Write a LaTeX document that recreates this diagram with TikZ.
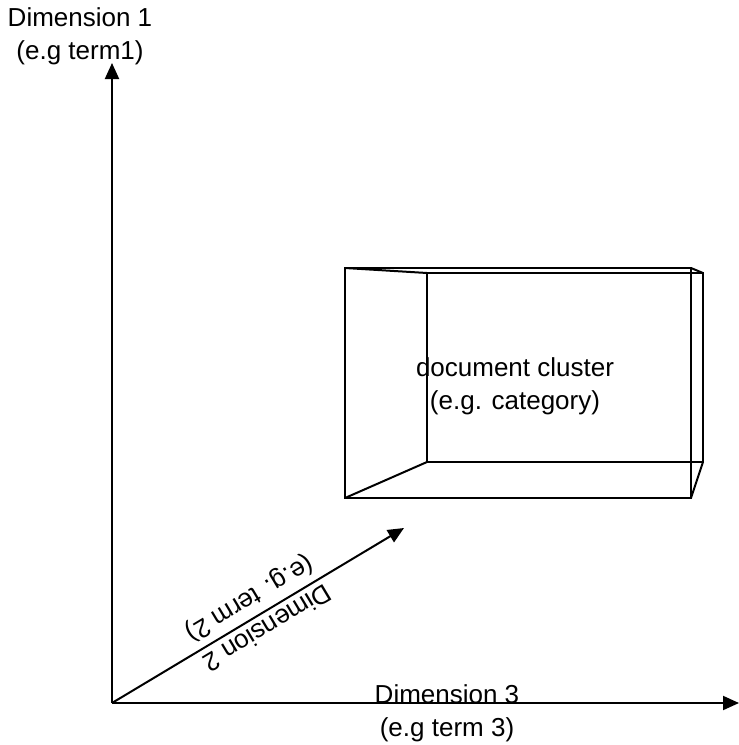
\documentclass[tikz,border=0pt]{standalone}
\usepackage{fontspec}
\setmainfont{Liberation Sans}
\usepackage{tikz}
\usetikzlibrary{arrows.meta,positioning,calc}
\tikzset{
  axis/.style = {-{Triangle[length=8pt, width=7pt]}, line width = 1pt},
  edge/.style = {line width = 1pt},
  lbl/.style = {align = center, font = \fontsize{13}{16.5}\selectfont}
}

\begin{document}
\begin{tikzpicture}[x = 0.5pt, y = -0.5pt]
\useasboundingbox (0,0) rectangle (739,745);
% axes
\coordinate (o) at (112,703);
\coordinate (d1) at (112,63);
\coordinate (d3) at (739,703);
\coordinate (d2) at (404,528);
\draw[axis] (o) -- (d1);
\draw[axis] (o) -- (d3);
\draw[axis] (o) -- (d2);
\node[lbl] (dimA) at (80,36) {Dimension 1\\(e.g term1)};
\node[lbl] (dimC) at (447,713) {Dimension 3\\(e.g term 3)};
\node[lbl, rotate = 211] (dimB) at (258,612) {Dimension 2\\(e.g. term 2)};
% cluster box
\coordinate (fa) at (345,268);
\coordinate (fb) at (691,268);
\coordinate (fc) at (691,498);
\coordinate (fd) at (345,498);
\coordinate (ba) at (427,273);
\coordinate (bb) at (703,273);
\coordinate (bc) at (703,462);
\coordinate (bd) at (427,462);
\draw[edge] (fa) -- (fb) -- (fc) -- (fd) -- cycle;
\draw[edge] (ba) -- (bb) -- (bc) -- (bd) -- cycle;
\draw[edge] (fa) -- (ba);
\draw[edge] (fb) -- (bb);
\draw[edge] (fc) -- (bc);
\draw[edge] (fd) -- (bd);
\node[lbl] (clu) at (515,386) {document cluster\\(e.g. category)};
\end{tikzpicture}
\end{document}
